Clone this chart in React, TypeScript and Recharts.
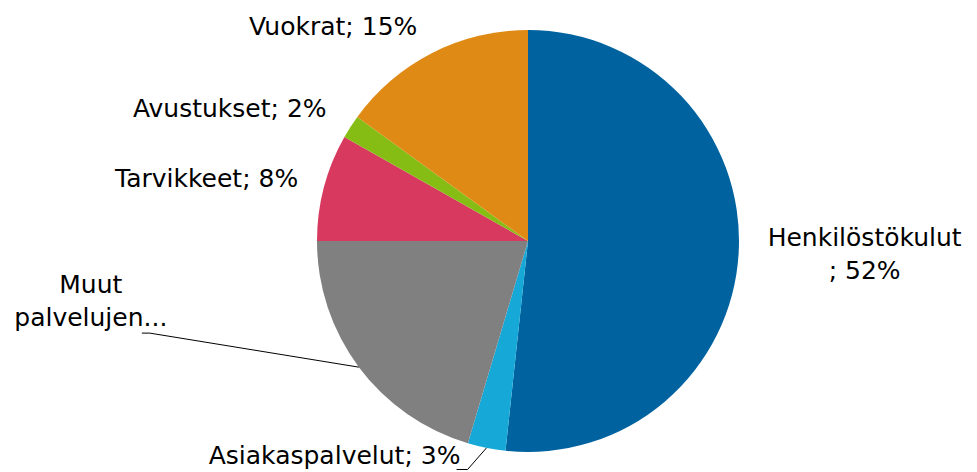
import { PieChart, Pie, Cell } from 'recharts';

const categories = ['Henkilöstökulut', 'Asiakaspalvelut', 'Muut palvelujen ostot', 'Tarvikkeet', 'Avustukset', 'Vuokrat'];
const shares = [51.7, 2.9, 20.4, 8.2, 1.8, 15.0];
// how each label is broken into lines (Excel wraps / truncates some)
const labelLines = [
  ['Henkilöstökulut', '; {p}%'],
  ['Asiakaspalvelut; {p}%'],
  ['Muut', 'palvelujen...'],
  ['Tarvikkeet; {p}%'],
  ['Avustukset; {p}%'],
  ['Vuokrat; {p}%'],
];

const COLORS = ['#0063A0', '#16A9D7', '#808080', '#D83A5F', '#86BD14', '#E08A16'];
// label block centre offset from a point just outside the slice
const LABEL_OFFSET = [
  { dx: 106, dy: 0 },
  { dx: -148, dy: -12 },
  { dx: -252, dy: -79 },
  { dx: -98, dy: -4 },
  { dx: -104, dy: -8 },
  { dx: -90, dy: -9 },
];
// leader lines: [elbow, end] relative to label centre
const LEADERS: Record<number, number[][]> = {
  1: [[133, 14], [122, 14]],
  2: [[59, 33], [51, 33]],
};

const data = categories.map((name, i) => ({ name, value: shares[i] }));
const RAD = Math.PI / 180;
const LINE_H = 33;

function renderLabel(props: any) {
  const { cx, cy, midAngle, outerRadius, percent, index } = props;
  const p = Math.round(percent * 100);
  const r = outerRadius + 20;
  const px = cx + r * Math.cos(-midAngle * RAD);
  const py = cy + r * Math.sin(-midAngle * RAD);
  const off = LABEL_OFFSET[index];
  const lx = px + off.dx;
  const ly = py + off.dy;
  const lines = labelLines[index].map((l) => l.replace('{p}', String(p)));
  const n = lines.length;
  const leader = LEADERS[index];
  let path = null;
  if (leader) {
    const ex = cx + outerRadius * Math.cos(-midAngle * RAD);
    const ey = cy + outerRadius * Math.sin(-midAngle * RAD);
    const pts = [[ex, ey], ...leader.map(([a, b]) => [lx + a, ly + b])];
    path = (
      <polyline
        points={pts.map((q) => q.join(',')).join(' ')}
        fill="none"
        stroke="#000"
        strokeWidth={1}
      />
    );
  }
  return (
    <g key={index}>
      {path}
      <text
        x={lx}
        y={ly}
        textAnchor="middle"
        fill="#000"
        fontSize={25}
        fontFamily="'DejaVu Sans', Verdana, sans-serif"
      >
        {lines.map((l, i) => (
          <tspan key={i} x={lx} y={ly + (i - (n - 1) / 2) * LINE_H + 9}>
            {l}
          </tspan>
        ))}
      </text>
    </g>
  );
}

export default function App() {
  return (
    <div style={{ position: 'absolute', left: 0, top: 0, background: '#fff' }}>
      <PieChart width={977} height={472} margin={{ top: 0, right: 0, bottom: 0, left: 0 }}>
        <Pie
          data={data}
          dataKey="value"
          nameKey="name"
          cx={528}
          cy={241}
          outerRadius={211}
          startAngle={90}
          endAngle={-270}
          stroke="none"
          label={renderLabel}
          labelLine={false}
          isAnimationActive={false}
        >
          {data.map((_, i) => (
            <Cell key={i} fill={COLORS[i]} />
          ))}
        </Pie>
      </PieChart>
    </div>
  );
}
